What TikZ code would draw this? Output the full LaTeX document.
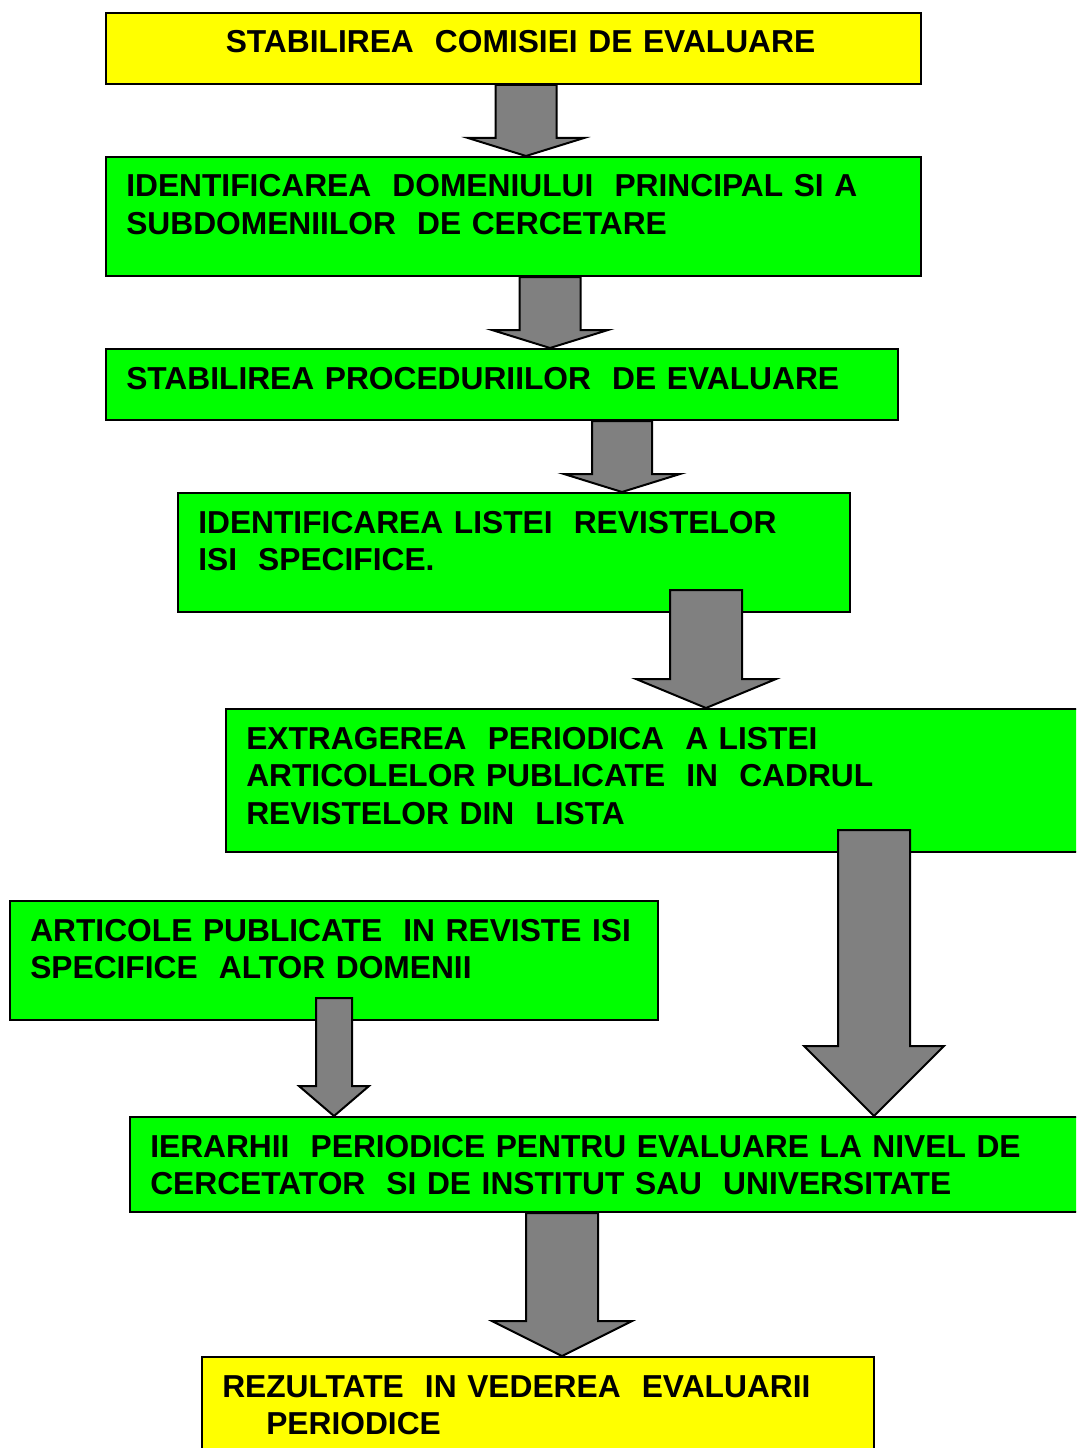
\documentclass[tikz,border=0pt]{standalone}
\usepackage{fontspec}
\setmainfont{Liberation Sans}
\usetikzlibrary{calc,fit}
\definecolor{boxyellow}{RGB}{255,255,0}
\definecolor{boxgreen}{RGB}{0,255,0}
\definecolor{arrowgray}{RGB}{128,128,128}
% block arrow: from node, to node, x, overlap, half shaft, half head, head length
\newcommand{\blockarrow}[7]{%
  \coordinate (arrX) at (#3,0);
  \coordinate (arrS) at ($(arrX |- #1.south)+(0,-#4)$);
  \coordinate (arrT) at (arrX |- #2.north);
  \draw[blockarr] ($(arrS)+(-#5,0)$) -- ($(arrT)+(-#5,-#7)$) -- ($(arrT)+(-#6,-#7)$) -- (arrT)
    -- ($(arrT)+(#6,-#7)$) -- ($(arrT)+(#5,-#7)$) -- ($(arrS)+(#5,0)$) -- cycle;
}
\begin{document}
\begin{tikzpicture}[x=0.75pt,y=-0.75pt,
  box/.style={draw=black, line width=1.5pt, inner sep=0pt},
  txt/.style={inner sep=0pt, text width=780pt, align=left, font=\fontsize{23.8}{28.2}\selectfont\bfseries},
  blockarr/.style={draw=black, line width=1.5pt, fill=arrowgray, line join=miter}]
  \useasboundingbox (0,0) rectangle (1076,1448);
  \clip (0,0) rectangle (1076,1448);
  % boxes
  \node[box, fill=boxyellow, fit={(106,13) (921,84)}] (comisie) {};
  \node[box, fill=boxgreen, fit={(106,157) (921,276)}] (domenii) {};
  \node[box, fill=boxgreen, fit={(106,349) (898,420)}] (proceduri) {};
  \node[box, fill=boxgreen, fit={(178,493) (850,612)}] (reviste) {};
  \node[box, fill=boxgreen, fit={(226,709) (1090,852)}] (extragere) {};
  \node[box, fill=boxgreen, fit={(10,901) (658,1020)}] (altele) {};
  \node[box, fill=boxgreen, fit={(130,1117) (1090,1212)}] (ierarhii) {};
  \node[box, fill=boxyellow, fit={(202,1357) (874,1470)}] (rezultate) {};
  % texts
  \node[txt, align=center, anchor=base] (tcomisie) at ($(comisie.north)+(7,41)$)
    {STABILIREA \ COMISIEI DE EVALUARE};
  \node[txt, anchor=base west] (tdomenii) at ($(domenii.north west)+(21,41)$)
    {IDENTIFICAREA \ DOMENIULUI \ PRINCIPAL SI A\\SUBDOMENIILOR \ DE CERCETARE};
  \node[txt, anchor=base west] (tproceduri) at ($(proceduri.north west)+(21,41)$)
    {STABILIREA PROCEDURIILOR \ DE EVALUARE};
  \node[txt, anchor=base west] (treviste) at ($(reviste.north west)+(21,41)$)
    {IDENTIFICAREA LISTEI \ REVISTELOR\\ISI \ SPECIFICE.};
  \node[txt, anchor=base west] (textragere) at ($(extragere.north west)+(21,41)$)
    {EXTRAGEREA \ PERIODICA \ A LISTEI\\ARTICOLELOR PUBLICATE \ IN \ CADRUL\\REVISTELOR DIN \ LISTA};
  \node[txt, anchor=base west] (taltele) at ($(altele.north west)+(21,41)$)
    {ARTICOLE PUBLICATE \ IN REVISTE ISI\\SPECIFICE \ ALTOR DOMENII};
  \node[txt, anchor=base west] (tierarhii) at ($(ierarhii.north west)+(21,41)$)
    {IERARHII \ PERIODICE PENTRU EVALUARE LA NIVEL DE\\CERCETATOR \ SI DE INSTITUT SAU \ UNIVERSITATE};
  \node[txt, anchor=base west] (trezultate) at ($(rezultate.north west)+(21,41)$)
    {REZULTATE \ IN VEDEREA \ EVALUARII\\\hspace*{33pt}PERIODICE};
  % arrows
  \blockarrow{comisie}{domenii}{526}{0}{30.5}{58}{18}
  \blockarrow{domenii}{proceduri}{550}{0}{30.5}{58}{18}
  \blockarrow{proceduri}{reviste}{622}{0}{30}{58}{18}
  \blockarrow{reviste}{extragere}{706}{23}{36}{70}{29}
  \blockarrow{extragere}{ierarhii}{874}{23}{36}{70}{70}
  \blockarrow{altele}{ierarhii}{334}{23}{18}{35}{30}
  \blockarrow{ierarhii}{rezultate}{562}{0}{36}{70}{35}
\end{tikzpicture}
\end{document}
